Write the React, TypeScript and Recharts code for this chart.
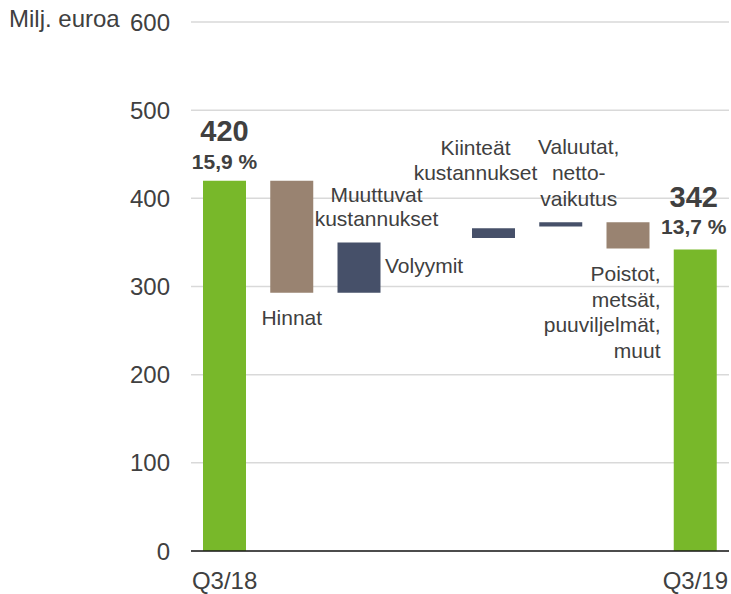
import React from 'react';
import { BarChart, Bar, XAxis, YAxis, CartesianGrid, Cell, LabelList } from 'recharts';

const categories = [
  'Q3/18',
  'Hinnat',
  'Muuttuvat kustannukset',
  'Volyymit',
  'Kiinteät kustannukset',
  'Valuutat, nettovaikutus',
  'Poistot, metsät, puuviljelmät, muut',
  'Q3/19',
];
const barLow = [0, 293, 293, 350, 355, 368, 343, 0];
const barHigh = [420, 420, 350, 350, 366, 373, 373, 342];
const barKind = ['total', 'neg', 'pos', 'pos', 'pos', 'pos', 'neg', 'total'];
const xTickLabels = ['Q3/18', '', '', '', '', '', '', 'Q3/19'];
const yTicks = [0, 100, 200, 300, 400, 500, 600];
const totalLabels = ['420', '', '', '', '', '', '', '342'];
const marginLabels = ['15,9 %', '', '', '', '', '', '', '13,7 %'];
const labelLines = [
  [],
  ['Hinnat'],
  ['Muuttuvat', 'kustannukset'],
  ['Volyymit'],
  ['Kiinteät', 'kustannukset'],
  ['Valuutat,', 'netto-', 'vaikutus'],
  ['Poistot,', 'metsät,', 'puuviljelmät,', 'muut'],
  [],
];

const data = categories.map((name, i) => ({
  name,
  range: [barLow[i], barHigh[i]],
  kind: barKind[i],
}));

const COLORS: Record<string, string> = {
  total: '#78B82A',
  neg: '#998371',
  pos: '#465069',
};
const TEXT = '#404040';
const FONT = '"Liberation Sans", Arial, sans-serif';

const renderLabel = (props: any) => {
  const { x, y, width, height, value } = props;
  const index = categories.indexOf(String(value));
  if (index < 0) return null;
  const left = Number(x);
  const w = Number(width);
  const y0 = Number(y);
  const h = Number(height);
  const top = Math.min(y0, y0 + h);
  const bottom = Math.max(y0, y0 + h);
  const cx = left + w / 2;
  const right = left + w;
  const lines = labelLines[index] || [];
  const els: any[] = [];
  const t = (key: string, tx: number, ty: number, s: string, anchor: string, size = 21, bold = false) => (
    <text
      key={key}
      x={tx}
      y={ty}
      textAnchor={anchor}
      dominantBaseline="central"
      fontSize={size}
      fontWeight={bold ? 'bold' : 'normal'}
      fill={TEXT}
      fontFamily={FONT}
    >
      {s}
    </text>
  );
  if (totalLabels[index]) {
    const dx = index === 0 ? 0 : -1.5;
    els.push(t('tv', cx + dx, top - (index === 0 ? 50 : 52), totalLabels[index], 'middle', 29, true));
    els.push(t('mv', cx + dx, top - (index === 0 ? 19 : 23), marginLabels[index], 'middle', 21, true));
  }
  if (index === 1) {
    els.push(t('l0', cx, bottom + 25, lines[0], 'middle'));
  } else if (index === 2) {
    lines.forEach((s, k) => els.push(t('l' + k, cx + 17.5, top - 48 + k * 24, s, 'middle')));
    // the neighbouring "Volyymit" step is too small to draw; its label sits beside this bar
    els.push(t('v0', right + 4.5, top + 23, labelLines[3][0], 'start'));
  } else if (index === 4) {
    lines.forEach((s, k) => els.push(t('l' + k, cx - 18, top - 81 + k * 25, s, 'middle')));
  } else if (index === 5) {
    lines.forEach((s, k) => els.push(t('l' + k, cx + 18, top - 76 + k * 26, s, 'middle')));
  } else if (index === 6) {
    lines.forEach((s, k) => els.push(t('l' + k, right + 11, bottom + 25 + k * 25.5, s, 'end')));
  }
  return <g key={'lab' + index}>{els}</g>;
};

export default function App() {
  return (
    <div style={{ position: 'absolute', left: 0, top: 0, width: 731, height: 594, fontFamily: FONT }}>
      <div
        style={{
          position: 'absolute',
          left: 9,
          top: 7,
          fontSize: 24,
          lineHeight: '24px',
          color: TEXT,
          fontFamily: FONT,
          whiteSpace: 'nowrap',
        }}
      >
        Milj. euroa
      </div>
      <BarChart
        width={731}
        height={594}
        data={data}
        margin={{ top: 22, right: 2, bottom: 0, left: 0 }}
        barSize={43}
      >
        <CartesianGrid vertical={false} stroke="#D9D9D9" strokeWidth={1.5} />
        <XAxis
          dataKey="name"
          interval={0}
          tickLine={false}
          tickSize={0}
          tickMargin={21}
          height={43}
          axisLine={{ stroke: '#1a1a1a', strokeWidth: 1.5 }}
          tick={{ fill: TEXT, fontSize: 24, fontFamily: FONT }}
          tickFormatter={(_v: any, i: number) => xTickLabels[i]}
        />
        <YAxis
          domain={[0, 600]}
          ticks={yTicks}
          axisLine={false}
          tickLine={false}
          tickSize={0}
          tickMargin={21}
          width={191}
          tick={{ fill: TEXT, fontSize: 24, fontFamily: FONT }}
        />
        <Bar dataKey="range" isAnimationActive={false}>
          {data.map((d, i) => (
            <Cell key={i} fill={COLORS[d.kind]} />
          ))}
          <LabelList dataKey="name" content={renderLabel} />
        </Bar>
      </BarChart>
    </div>
  );
}
